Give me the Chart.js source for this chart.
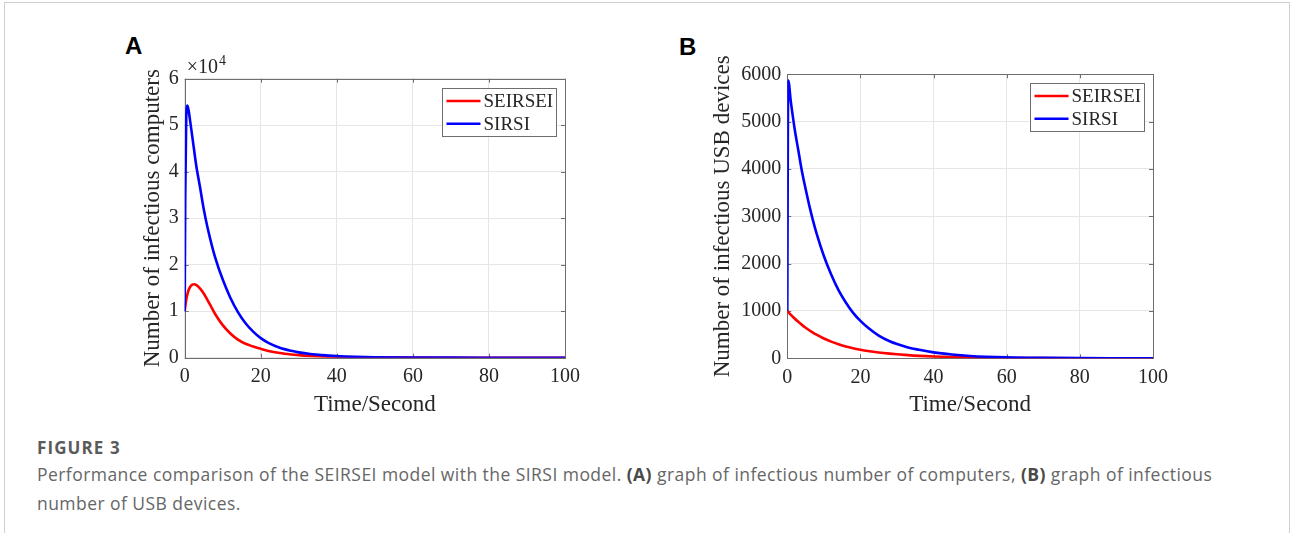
<!DOCTYPE html>
<html>
<head>
<meta charset="utf-8">
<script src="https://cdn.jsdelivr.net/npm/chart.js@4.4.0/dist/chart.umd.min.js"></script>
<style>
  body { margin: 0; width: 1290px; height: 533px; overflow: hidden; position: relative; background: #fff; font-family: "Open Sans", sans-serif; }
  .frame { position: absolute; left: 4px; top: 2px; width: 1284px; height: 600px; border: 1px solid #d0d0d0; }
  .panel-label { position: absolute; font: bold 24px "Liberation Sans", Arial, sans-serif; color: #000; line-height: 24px; }
  canvas { position: absolute; }
  .fig { position: absolute; left: 37px; top: 438px; font-size: 17px; font-weight: 700; letter-spacing: 1.1px; color: #5a5a5a; line-height: 20px; }
  .caption { position: absolute; left: 37px; top: 460px; font-size: 17.5px; letter-spacing: 0.45px; line-height: 29px; color: #666; white-space: nowrap; }
  .caption b { font-weight: 700; color: #4a4a4a; }
</style>
</head>
<body>
<div class="frame"></div>
<div class="panel-label" style="left:125px; top:34px;">A</div>
<div class="panel-label" style="left:679px; top:35px;">B</div>
<canvas id="chartA" width="500" height="400" style="left:100px; top:30px;"></canvas>
<canvas id="chartB" width="500" height="400" style="left:680px; top:30px;"></canvas>
<div class="fig">FIGURE 3</div>
<div class="caption">Performance comparison of the SEIRSEI model with the SIRSI model. <b>(A)</b> graph of infectious number of computers, <b>(B)</b> graph of infectious<br>number of USB devices.</div>

<script>
// series names
var seriesLabels = ['SEIRSEI', 'SIRSI'];
var seriesColors = ['#ff0000', '#0000ff'];

// panel A: infectious computers
var timeA = [0, 0.15, 0.4, 0.7, 1, 1.5, 2, 2.5, 3, 4, 5, 6, 7, 8, 10, 12, 14, 16, 18, 20, 22, 25, 28, 30, 33, 36, 40, 45, 50, 60, 70, 80, 90, 100];
var seirseiA = [10000, 11000, 12400, 13600, 14500, 15300, 15700, 15800, 15650, 14900, 13800, 12400, 10900, 9400, 7000, 5200, 3900, 3000, 2400, 1900, 1450, 1000, 700, 550, 380, 260, 160, 85, 45, 12, 3, 1, 0, 0];
var sirsiA = [10000, 35000, 51500, 54200, 53300, 50500, 47500, 44500, 41500, 36800, 32000, 28000, 24600, 21600, 16800, 12900, 9800, 7400, 5600, 4200, 3200, 2150, 1480, 1150, 800, 560, 340, 180, 95, 25, 7, 2, 0, 0];

// panel B: infectious USB devices
var timeB = [0, 0.25, 1, 2, 3, 4, 5, 6, 7, 8, 10, 12, 14, 16, 18, 20, 22, 25, 28, 30, 33, 36, 40, 45, 50, 60, 70, 80, 90, 100];
var seirseiB = [1000, 980, 917, 840, 770, 706, 647, 593, 544, 499, 419, 352, 296, 249, 212, 182, 156, 124, 99, 85, 67, 52, 38, 26, 17, 7, 3, 1, 0, 0];
var sirsiB = [1000, 5870, 5400, 4850, 4400, 3950, 3580, 3230, 2920, 2640, 2160, 1770, 1440, 1180, 960, 790, 650, 480, 360, 300, 230, 180, 125, 80, 50, 20, 8, 3, 1, 0];

// axes
var xTicks = [0, 20, 40, 60, 80, 100];
var yMaxA = 60000, yStepA = 10000;
var yMaxB = 6000, yStepB = 1000;

var serif = '"Liberation Serif", "Times New Roman", serif';
var textColor = '#262626';

function toPoints(xs, ys) {
    return xs.map(function(x, i) { return { x: x, y: ys[i] }; });
}

// MATLAB style box, inward ticks and boxed legend
var matlabPlugin = {
    id: 'matlabBox',
    beforeDatasetsDraw: function(chart) {
        var ctx = chart.ctx, a = chart.chartArea;
        var xs = chart.scales.x, ys = chart.scales.y;
        ctx.save();
        ctx.strokeStyle = '#6e6e6e';
        ctx.lineWidth = 1;
        ctx.beginPath();
        xs.ticks.forEach(function(t) {
            var px = Math.round(xs.getPixelForValue(t.value)) + 0.5;
            ctx.moveTo(px, a.bottom); ctx.lineTo(px, a.bottom - 4);
            ctx.moveTo(px, a.top); ctx.lineTo(px, a.top + 4);
        });
        ys.ticks.forEach(function(t) {
            var py = Math.round(ys.getPixelForValue(t.value)) + 0.5;
            ctx.moveTo(a.left, py); ctx.lineTo(a.left + 4, py);
            ctx.moveTo(a.right, py); ctx.lineTo(a.right - 4, py);
        });
        ctx.stroke();
        ctx.strokeRect(Math.round(a.left) + 0.5, Math.round(a.top) + 0.5, Math.round(a.right - a.left), Math.round(a.bottom - a.top));
        ctx.restore();
    },
    afterDatasetsDraw: function(chart) {
        var ctx = chart.ctx, a = chart.chartArea;
        var w = 114, h = 48;
        var left = Math.round(a.right - 9 - w) + 0.5, top = Math.round(a.top + 9) + 0.5;
        ctx.save();
        ctx.fillStyle = '#fff';
        ctx.fillRect(left, top, w, h);
        ctx.strokeStyle = '#6e6e6e';
        ctx.lineWidth = 1;
        ctx.strokeRect(left, top, w, h);
        ctx.font = '19px ' + serif;
        ctx.textBaseline = 'middle';
        ctx.textAlign = 'left';
        chart.data.datasets.forEach(function(ds, i) {
            var y = top + 12.5 + i * 22.7;
            ctx.strokeStyle = ds.borderColor;
            ctx.lineWidth = 2.5;
            ctx.beginPath();
            ctx.moveTo(left + 4, y);
            ctx.lineTo(left + 38, y);
            ctx.stroke();
            ctx.fillStyle = textColor;
            ctx.fillText(ds.label, left + 41, y + 1);
        });
        ctx.restore();
    }
};

// exponent label above panel A
var exponentPlugin = {
    id: 'exponent',
    afterDraw: function(chart) {
        var ctx = chart.ctx, a = chart.chartArea;
        ctx.save();
        ctx.fillStyle = textColor;
        ctx.textBaseline = 'alphabetic';
        ctx.font = '20px ' + serif;
        ctx.fillText('\u00d710', a.left + 2, a.top - 6);
        var w = ctx.measureText('\u00d710').width;
        ctx.font = '14px ' + serif;
        ctx.fillText('4', a.left + 2 + w + 1, a.top - 14);
        ctx.restore();
    }
};

function makeChart(id, xs, red, blue, yMax, yStep, yTitle, dims, tickFmt, extra) {
    var ctx = document.getElementById(id).getContext('2d');
    return new Chart(ctx, {
        type: 'line',
        data: {
            datasets: [{
                label: seriesLabels[0],
                data: toPoints(xs, red),
                borderColor: seriesColors[0],
                borderWidth: 2.6,
                pointRadius: 0,
                cubicInterpolationMode: 'monotone',
                order: 1
            }, {
                label: seriesLabels[1],
                data: toPoints(xs, blue),
                borderColor: seriesColors[1],
                borderWidth: 2.6,
                pointRadius: 0,
                cubicInterpolationMode: 'monotone',
                order: 0
            }]
        },
        options: {
            responsive: false,
            animation: false,
            events: [],
            layout: { padding: { left: 0, top: dims.top, right: dims.right, bottom: 0 } },
            plugins: { legend: { display: false }, tooltip: { enabled: false } },
            scales: {
                x: {
                    type: 'linear',
                    min: 0,
                    max: 100,
                    afterBuildTicks: function(scale) {
                        scale.ticks = xTicks.map(function(v) { return { value: v }; });
                    },
                    afterFit: function(scale) { scale.height = dims.xh; },
                    grid: { color: '#e6e6e6', drawTicks: false },
                    border: { display: false },
                    ticks: { color: textColor, font: { family: serif, size: 20 }, padding: 7, maxRotation: 0 },
                    title: { display: true, text: 'Time/Second', color: textColor, font: { family: serif, size: 23 }, padding: { top: 0, bottom: 11 } }
                },
                y: {
                    type: 'linear',
                    min: 0,
                    max: yMax,
                    ticks: { stepSize: yStep, color: textColor, font: { family: serif, size: 20 }, padding: 6, callback: tickFmt },
                    afterFit: function(scale) { scale.width = dims.yw; },
                    grid: { color: '#e6e6e6', drawTicks: false },
                    border: { display: false },
                    title: { display: true, text: yTitle, color: textColor, font: { family: serif, size: 23 }, padding: { top: dims.tp, bottom: 0 } }
                }
            }
        },
        plugins: [matlabPlugin].concat(extra)
    });
}

document.addEventListener('DOMContentLoaded', function() {
    makeChart('chartA', timeA, seirseiA, sirsiA, yMaxA, yStepA, 'Number of infectious computers',
        { top: 48.7, right: 35, xh: 72.3, yw: 84.7, tp: 38.9 },
        function(v) { return v / 10000; }, [exponentPlugin]);
    makeChart('chartB', timeB, seirseiB, sirsiB, yMaxB, yStepB, 'Number of infectious USB devices',
        { top: 44.3, right: 27, xh: 71.7, yw: 107.3, tp: 29.5 },
        function(v) { return v; }, []);
});
</script>
</body>
</html>
